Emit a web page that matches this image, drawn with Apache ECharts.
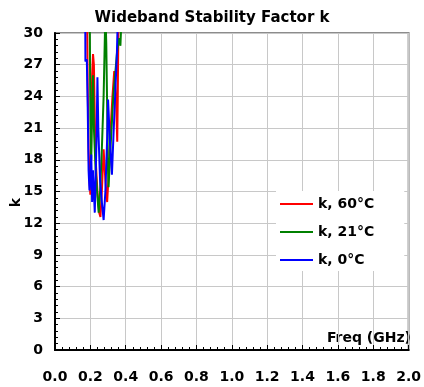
<!DOCTYPE html>
<html><head><meta charset="utf-8">
<script src="https://cdn.jsdelivr.net/npm/echarts@6/dist/echarts.min.js"></script>
<style>html,body{margin:0;padding:0;background:#fff}#c{width:424px;height:387px}</style>
</head><body><div id="c"></div>
<script>
var xTicks = ['0.0','0.2','0.4','0.6','0.8','1.0','1.2','1.4','1.6','1.8','2.0'];
var yTicks = [0,3,6,9,12,15,18,21,24,27,30];

var freq60 = [0.175,0.185,0.19,0.195,0.20,0.205,0.21,0.215,0.22,0.225,0.23,0.24,0.25,0.257,0.265,0.275,0.285,0.295,0.305,0.315,0.325,0.335,0.345,0.352,0.355,0.36,0.365];
var k60    = [45,25,19,16,14.7,20,26,28,27,22,18,15,13,12.6,15,19,16,14,17,21,24,26.4,24,19.7,24,33,45];

var freq21 = [0.19,0.197,0.20,0.205,0.21,0.215,0.22,0.23,0.24,0.247,0.255,0.265,0.275,0.28,0.285,0.29,0.295,0.30,0.303,0.31,0.32,0.33,0.34,0.35,0.36,0.37,0.375,0.38];
var k21    = [45,30,22,18,23,26,21,17,14.5,13,15,19,24,28,32,29,23,17,15.4,18,21,24,26,28,29.5,28.8,31,40];

var freq0 = [0.168,0.172,0.18,0.185,0.19,0.195,0.20,0.205,0.21,0.215,0.225,0.235,0.24,0.245,0.255,0.265,0.275,0.285,0.295,0.30,0.31,0.322,0.33,0.34,0.35,0.356,0.36];
var k0    = [45,27.3,27.5,23,17,15.1,16,18.5,14,17,13,20,25.8,21,16,14,12.3,15,20,23.7,20,16.6,20,24,28,32,45];

function pairs(f,k){return f.map(function(v,i){return [v,k[i]];});}

var FF = '"DejaVu Sans", sans-serif';
var chart = echarts.init(document.getElementById('c'));
var bold = {fontFamily:FF, fontWeight:'bold', fontSize:14, color:'#000'};
chart.setOption({
  animation:false,
  backgroundColor:'#fff',
  title:{text:'Wideband Stability Factor k', left:'center', top:6,
    textStyle:{fontFamily:FF, fontWeight:'bold', fontSize:15, color:'#000'}},
  grid:{left:55, right:13, top:33, bottom:37, show:true, borderColor:'#8c8c8c', borderWidth:2, backgroundColor:'transparent'},
  xAxis:{type:'value', min:0, max:2, interval:0.2,
    axisLine:{show:true, onZero:false, lineStyle:{color:'#000', width:2}},
    axisTick:{show:true, inside:true, length:5, lineStyle:{color:'#000'}},
    minorTick:{show:true, splitNumber:5, length:3, lineStyle:{color:'#000'}},
    axisLabel:Object.assign({margin:20, formatter:function(v){return v.toFixed(1);}}, bold),
    splitLine:{show:true, lineStyle:{color:'#c8c8c8', width:1}}},
  yAxis:{type:'value', min:0, max:30, interval:3,
    axisLine:{show:true, onZero:false, lineStyle:{color:'#000', width:2}},
    axisTick:{show:true, inside:true, length:5, lineStyle:{color:'#000'}},
    minorTick:{show:true, splitNumber:5, length:3, lineStyle:{color:'#000'}},
    axisLabel:Object.assign({margin:12}, bold),
    splitLine:{show:true, lineStyle:{color:'#c8c8c8', width:1}}},
  legend:{orient:'vertical', left:276, top:191, itemWidth:33, itemHeight:2, itemGap:14,
    icon:'rect', backgroundColor:'#fff', padding:[6,30,4,4],
    textStyle:bold,
    data:['k, 60°C','k, 21°C','k, 0°C']},
  graphic:[
    {type:'text', right:13, top:331, style:{text:'Freq (GHz)', fill:'#000', font:'bold 14px ' + FF}},
    {type:'text', left:9, top:198, rotation:Math.PI/2, style:{text:'k', fill:'#000', font:'bold 14px ' + FF}}
  ],
  series:[
    {name:'k, 60°C', type:'line', data:pairs(freq60,k60), showSymbol:false, symbol:'none', clip:true, color:'#ff0000', lineStyle:{width:2, color:'#ff0000'}},
    {name:'k, 21°C', type:'line', data:pairs(freq21,k21), showSymbol:false, symbol:'none', clip:true, color:'#008000', lineStyle:{width:2, color:'#008000'}},
    {name:'k, 0°C', type:'line', data:pairs(freq0,k0), showSymbol:false, symbol:'none', clip:true, color:'#0000ff', lineStyle:{width:2, color:'#0000ff'}}
  ]
});
</script></body></html>
